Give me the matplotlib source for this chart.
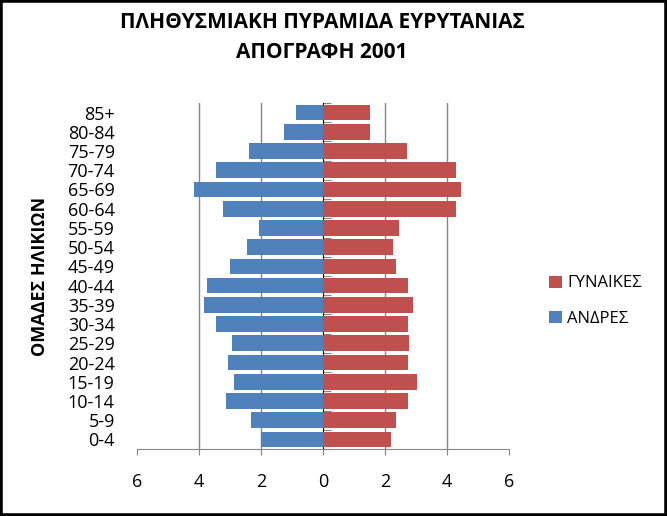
import matplotlib
matplotlib.use('Agg')
import matplotlib.pyplot as plt
import numpy as np
from matplotlib.patches import Rectangle

# age groups, bottom to top
AGE_GROUPS = ['0-4', '5-9', '10-14', '15-19', '20-24', '25-29', '30-34', '35-39', '40-44',
              '45-49', '50-54', '55-59', '60-64', '65-69', '70-74', '75-79', '80-84', '85+']
MEN = [2.01, 2.33, 3.14, 2.88, 3.07, 2.94, 3.46, 3.85, 3.75,
       3.01, 2.46, 2.07, 3.24, 4.17, 3.46, 2.40, 1.27, 0.88]
WOMEN = [2.18, 2.35, 2.73, 3.02, 2.73, 2.76, 2.73, 2.89, 2.73,
         2.35, 2.25, 2.44, 4.28, 4.44, 4.28, 2.70, 1.51, 1.51]
X_TICKS = [-6, -4, -2, 0, 2, 4, 6]

TITLE_1 = 'ΠΛΗΘΥΣΜΙΑΚΗ ΠΥΡΑΜΙΔΑ ΕΥΡΥΤΑΝΙΑΣ'
TITLE_2 = 'ΑΠΟΓΡΑΦΗ 2001'
Y_LABEL = 'ΟΜΑΔΕΣ ΗΛΙΚΙΩΝ'
LABEL_WOMEN = 'ΓΥΝΑΙΚΕΣ'
LABEL_MEN = 'ΑΝΔΡΕΣ'

BLUE = '#4F81BD'
RED = '#C0504D'
GRAY = '#868686'

plt.rcParams['font.family'] = ['Open Sans', 'DejaVu Sans']

fig = plt.figure(figsize=(6.67, 5.16), dpi=100)
ax = fig.add_axes([137 / 667, 1 - 449 / 516, 372 / 667, 346 / 516])

y = np.arange(len(AGE_GROUPS))
ax.barh(y, -np.array(MEN), height=0.82, color=BLUE, label=LABEL_MEN, zorder=2)
ax.barh(y, WOMEN, height=0.82, color=RED, label=LABEL_WOMEN, zorder=2)

ax.set_xlim(-6, 6)
ax.set_ylim(-0.5, len(AGE_GROUPS) - 0.5)

# vertical gridlines (not at the edges or the zero axis)
for t in X_TICKS:
    if t not in (-6, 0, 6):
        ax.axvline(t, color=GRAY, lw=1.0, zorder=1)

ax.set_xticks(X_TICKS)
ax.set_xticklabels([str(abs(t)) for t in X_TICKS], fontsize=13)
ax.tick_params(axis='x', direction='out', length=4.5, color=GRAY, pad=13)

ax.set_yticks(y)
ax.set_yticklabels(AGE_GROUPS, fontsize=13)
ax.tick_params(axis='y', length=0, pad=16)

for s in ['top', 'right', 'left']:
    ax.spines[s].set_visible(False)
ax.spines['bottom'].set_color(GRAY)

# category axis crossing at zero with boundary ticks
sec = ax.secondary_yaxis(0.5)
sec.set_yticks(np.arange(len(AGE_GROUPS) + 1) - 0.5)
sec.tick_params(length=5.5, color=GRAY, labelleft=False, labelright=False)
sec.spines['left'].set_color(GRAY)

ax.set_ylabel(Y_LABEL, fontsize=13, fontweight='bold')
ax.yaxis.set_label_coords(-0.236, 0.5)

fig.text(322 / 667, 1 - 22 / 516, TITLE_1, ha='center', va='center', fontsize=15, fontweight='bold')
fig.text(322 / 667, 1 - 53 / 516, TITLE_2, ha='center', va='center', fontsize=15, fontweight='bold')

handles, labels = ax.get_legend_handles_labels()
ax.legend(handles[::-1], labels[::-1], loc='center left', bbox_to_anchor=(534 / 667, 1 - 301 / 516),
          bbox_transform=fig.transFigure, frameon=False, fontsize=12,
          handlelength=0.75, handleheight=0.75, handletextpad=0.35, labelspacing=1.15)

fig.patches.append(Rectangle((0, 0), 1, 1, transform=fig.transFigure, fill=False,
                             edgecolor='black', linewidth=4))

plt.savefig('out.png', dpi=100)
